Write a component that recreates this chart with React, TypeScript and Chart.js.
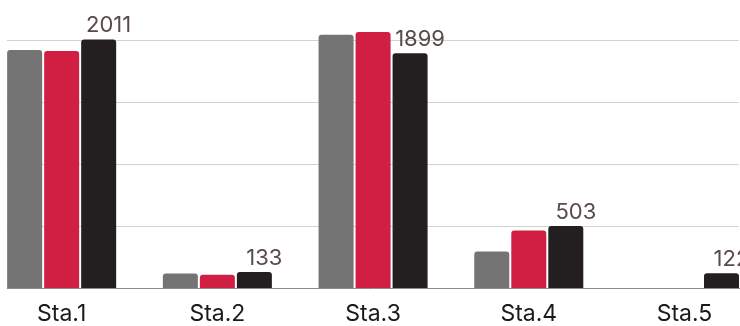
import React, { useEffect, useRef } from "react";
import { Chart, registerables } from "chart.js";

Chart.register(...registerables);

// Station names along the x axis
const stations = ["Sta.1", "Sta.2", "Sta.3", "Sta.4", "Sta.5"];

// Three series per station
const seriesGray = [1925, 121, 2048, 298, 0];
const seriesRed = [1918, 110, 2070, 468, 0];
const seriesBlack = [2011, 133, 1899, 503, 122];

// Horizontal guide lines
const yGridValues = [0, 500, 1000, 1500, 2000];

const GRAY = "#747474";
const RED = "#d01f42";
const BLACK = "#231f20";
const LABEL_COLOR = "#5b4a4a";
const GRID = "#d2d2d2";
const FONT = "Inter, 'Noto Sans', sans-serif";

// Value labels above the dark series
const valueLabels = {
  id: "valueLabels",
  afterDatasetsDraw(chart: any) {
    const ctx = chart.ctx;
    const meta = chart.getDatasetMeta(2);
    ctx.save();
    ctx.font = `400 22px ${FONT}`;
    ctx.fillStyle = LABEL_COLOR;
    ctx.textAlign = "center";
    ctx.textBaseline = "alphabetic";
    meta.data.forEach((bar: any, i: number) => {
      ctx.fillText(String(seriesBlack[i]), bar.x + 10, bar.y - 7);
    });
    ctx.restore();
  },
};

export default function App() {
  const ref = useRef<HTMLCanvasElement | null>(null);

  useEffect(() => {
    if (!ref.current) return;
    const toPoints = (arr: number[]) => arr.map((y, i) => ({ x: i, y }));
    const barStyle = {
      categoryPercentage: 0.713,
      barPercentage: 0.946,
      borderRadius: 3,
      borderSkipped: "bottom" as const,
    };
    const chart = new Chart(ref.current, {
      type: "bar",
      data: {
        datasets: [
          { label: "A", data: toPoints(seriesGray), backgroundColor: GRAY, ...barStyle },
          { label: "B", data: toPoints(seriesRed), backgroundColor: RED, ...barStyle },
          { label: "C", data: toPoints(seriesBlack), backgroundColor: BLACK, ...barStyle },
        ],
      },
      options: {
        animation: false,
        responsive: false,
        devicePixelRatio: 1,
        layout: { padding: { left: 7, right: 1, top: 16, bottom: 0 } },
        plugins: {
          legend: { display: false },
          tooltip: { enabled: false },
        },
        scales: {
          x: {
            type: "linear",
            min: -0.351,
            max: 4.35,
            offset: false,
            grid: { display: false, drawTicks: false },
            border: { display: true, color: "#8a8a8a", width: 1 },
            afterBuildTicks(axis: any) {
              axis.ticks = stations.map((_, i) => ({ value: i }));
            },
            ticks: {
              autoSkip: false,
              maxRotation: 0,
              padding: 12,
              color: "#1a1a1a",
              font: { family: FONT, size: 23 },
              callback: (v: any) => stations[Math.round(Number(v))] ?? "",
            },
          },
          y: {
            min: 0,
            max: 2200,
            afterBuildTicks(axis: any) {
              axis.ticks = yGridValues.map((value) => ({ value }));
            },
            ticks: { display: false },
            grid: {
              drawTicks: false,
              color: yGridValues.map((v) => (v === 0 ? "rgba(0,0,0,0)" : GRID)),
              lineWidth: 1,
            },
            border: { display: false },
          },
        },
      },
      plugins: [valueLabels],
    });
    return () => chart.destroy();
  }, []);

  return (
    <div
      style={{
        position: "fixed",
        left: 0,
        top: 0,
        width: 740,
        height: 326,
        overflow: "hidden",
        background: "#fff",
      }}
    >
      <canvas ref={ref} width={740} height={340} style={{ display: "block" }} />
    </div>
  );
}
